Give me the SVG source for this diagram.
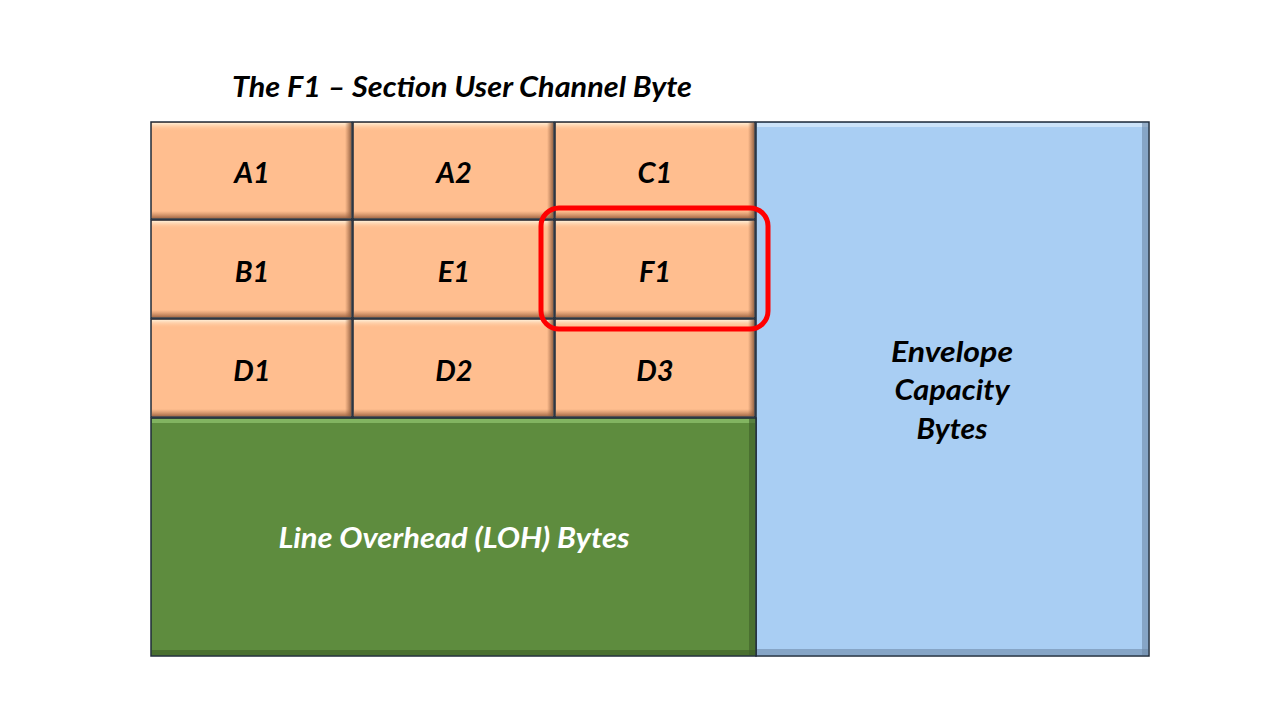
<svg xmlns="http://www.w3.org/2000/svg" width="1280" height="720" viewBox="0 0 1280 720">
<defs>
<linearGradient id="topHi" x1="0" y1="0" x2="0" y2="1">
<stop offset="0" stop-color="#fff0d8" stop-opacity="0.95"/>
<stop offset="1" stop-color="#ffbf8f" stop-opacity="0"/>
</linearGradient>
<linearGradient id="botSh" x1="0" y1="0" x2="0" y2="1">
<stop offset="0" stop-color="#b97a52" stop-opacity="0"/>
<stop offset="1" stop-color="#9e6442" stop-opacity="0.9"/>
</linearGradient>
<linearGradient id="rightSh" x1="0" y1="0" x2="1" y2="0">
<stop offset="0" stop-color="#9e6442" stop-opacity="0"/>
<stop offset="1" stop-color="#8a5a3c" stop-opacity="0.85"/>
</linearGradient>
</defs>
<style>
.cell{fill:#ffbe8f;stroke:#1f2b3a;stroke-width:1.5}
.lbl{font-family:Lato,"Open Sans","Liberation Sans",sans-serif;font-weight:bold;font-style:italic;font-size:29px;text-anchor:middle;fill:#000}
.title{font-family:Lato,"Open Sans","Liberation Sans",sans-serif;font-weight:bold;font-style:italic;font-size:28px;fill:#000}
</style>
<rect width="1280" height="720" fill="#fff"/>
<text class="title" x="232" y="97" textLength="460" lengthAdjust="spacingAndGlyphs">The F1 – Section User Channel Byte</text>

<g id="envelope">
<rect x="756" y="122" width="393" height="534" fill="#a9cef3" stroke="#1f2b3a" stroke-width="1.5"/>
<rect x="757" y="123" width="391" height="4" fill="#d5e8fa" opacity="0.8"/>
<rect x="1142" y="123" width="6" height="532" fill="#6f8aa8" opacity="0.6"/>
<rect x="757" y="649" width="391" height="6" fill="#6f8aa8" opacity="0.6"/>
<text class="lbl" x="952" y="362" textLength="122" lengthAdjust="spacingAndGlyphs">Envelope</text>
<text class="lbl" x="952" y="400" textLength="115" lengthAdjust="spacingAndGlyphs">Capacity</text>
<text class="lbl" x="952" y="439" textLength="71" lengthAdjust="spacingAndGlyphs">Bytes</text>
</g>

<g id="loh">
<rect x="151" y="418" width="605" height="238" fill="#5e8c3e" stroke="#1f2b3a" stroke-width="1.5"/>
<rect x="152" y="419" width="603" height="4" fill="#86b865" opacity="0.9"/>
<rect x="749" y="419" width="6" height="236" fill="#3e5e28" opacity="0.6"/>
<rect x="152" y="650" width="603" height="5" fill="#3e5e28" opacity="0.6"/>
<text class="lbl" x="454" y="548" style="fill:#fff" textLength="351" lengthAdjust="spacingAndGlyphs">Line Overhead (LOH) Bytes</text>
</g>

<g id="cellA1"><rect class="cell" x="151" y="122" width="201" height="97"/><rect x="152" y="123" width="199" height="8" fill="url(#topHi)"/><rect x="152" y="211" width="199" height="7" fill="url(#botSh)"/><rect x="345" y="123" width="6" height="95" fill="url(#rightSh)"/><text class="lbl" x="252" y="183">A1</text></g>
<g id="cellA2"><rect class="cell" x="353" y="122" width="201" height="97"/><rect x="354" y="123" width="199" height="8" fill="url(#topHi)"/><rect x="354" y="211" width="199" height="7" fill="url(#botSh)"/><rect x="547" y="123" width="6" height="95" fill="url(#rightSh)"/><text class="lbl" x="454" y="183">A2</text></g>
<g id="cellC1"><rect class="cell" x="555" y="122" width="200" height="97"/><rect x="556" y="123" width="198" height="8" fill="url(#topHi)"/><rect x="556" y="211" width="198" height="7" fill="url(#botSh)"/><rect x="748" y="123" width="6" height="95" fill="url(#rightSh)"/><text class="lbl" x="655" y="183">C1</text></g>

<g id="cellB1"><rect class="cell" x="151" y="220" width="201" height="98"/><rect x="152" y="221" width="199" height="8" fill="url(#topHi)"/><rect x="152" y="310" width="199" height="7" fill="url(#botSh)"/><rect x="345" y="221" width="6" height="96" fill="url(#rightSh)"/><text class="lbl" x="252" y="282">B1</text></g>
<g id="cellE1"><rect class="cell" x="353" y="220" width="201" height="98"/><rect x="354" y="221" width="199" height="8" fill="url(#topHi)"/><rect x="354" y="310" width="199" height="7" fill="url(#botSh)"/><rect x="547" y="221" width="6" height="96" fill="url(#rightSh)"/><text class="lbl" x="454" y="282">E1</text></g>
<g id="cellF1"><rect class="cell" x="555" y="220" width="200" height="98"/><rect x="556" y="221" width="198" height="8" fill="url(#topHi)"/><rect x="556" y="310" width="198" height="7" fill="url(#botSh)"/><rect x="748" y="221" width="6" height="96" fill="url(#rightSh)"/><text class="lbl" x="655" y="282">F1</text></g>

<g id="cellD1"><rect class="cell" x="151" y="319" width="201" height="98"/><rect x="152" y="320" width="199" height="8" fill="url(#topHi)"/><rect x="152" y="409" width="199" height="7" fill="url(#botSh)"/><rect x="345" y="320" width="6" height="96" fill="url(#rightSh)"/><text class="lbl" x="252" y="381">D1</text></g>
<g id="cellD2"><rect class="cell" x="353" y="319" width="201" height="98"/><rect x="354" y="320" width="199" height="8" fill="url(#topHi)"/><rect x="354" y="409" width="199" height="7" fill="url(#botSh)"/><rect x="547" y="320" width="6" height="96" fill="url(#rightSh)"/><text class="lbl" x="454" y="381">D2</text></g>
<g id="cellD3"><rect class="cell" x="555" y="319" width="200" height="98"/><rect x="556" y="320" width="198" height="8" fill="url(#topHi)"/><rect x="556" y="409" width="198" height="7" fill="url(#botSh)"/><rect x="748" y="320" width="6" height="96" fill="url(#rightSh)"/><text class="lbl" x="655" y="381">D3</text></g>

<g id="highlight">
<rect x="541" y="208" width="227" height="121" rx="18" ry="18" fill="none" stroke="#ff0000" stroke-width="5"/>
</g>
<g id="connectors"></g>
</svg>
